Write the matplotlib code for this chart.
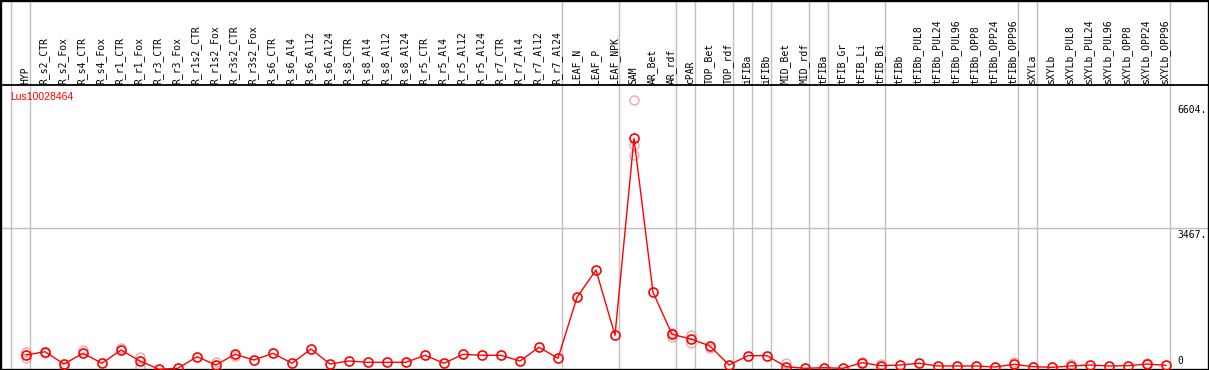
import matplotlib
matplotlib.use("Agg")
import matplotlib.pyplot as plt

# sample names (x axis, shown on top)
samples = ["HYP", "R_s2_CTR", "R_s2_Fox", "R_s4_CTR", "R_s4_Fox", "R_r1_CTR", "R_r1_Fox",
           "R_r3_CTR", "R_r3_Fox", "R_r1s2_CTR", "R_r1s2_Fox", "R_r3s2_CTR", "R_r3s2_Fox",
           "R_s6_CTR", "R_s6_Al4", "R_s6_Al12", "R_s6_Al24", "R_s8_CTR", "R_s8_Al4",
           "R_s8_Al12", "R_s8_Al24", "R_r5_CTR", "R_r5_Al4", "R_r5_Al12", "R_r5_Al24",
           "R_r7_CTR", "R_r7_Al4", "R_r7_Al12", "R_r7_Al24", "LEAF_N", "LEAF_P", "LEAF_NPK",
           "SAM", "AR_Bet", "AR_rdf", "cPAR", "TOP_Bet", "TOP_rdf", "iFIBa", "iFIBb",
           "MID_Bet", "MID_rdf", "tFIBa", "tFIB_Gr", "tFIB_Li", "tFIB_Bi", "tFIBb",
           "tFIBb_PUL8", "tFIBb_PUL24", "tFIBb_PUL96", "tFIBb_OPP8", "tFIBb_OPP24",
           "tFIBb_OPP96", "sXYLa", "sXYLb", "sXYLb_PUL8", "sXYLb_PUL24", "sXYLb_PUL96",
           "sXYLb_OPP8", "sXYLb_OPP24", "sXYLb_OPP96"]

# mean expression per sample
mean_expr = [378, 458, 158, 419, 176, 500, 232, 30, 54, 336, 134, 395, 256, 419, 176,
             524, 158, 232, 200, 200, 200, 371, 176, 395, 371, 371, 232, 566, 297,
             1785, 2450, 858, 5661, 1907, 883, 768, 597, 134, 361, 361,
             93, 54, 68, 54, 190, 117, 134, 176, 110, 110, 110, 85, 151,
             93, 78, 110, 134, 110, 117, 158, 127]

# single replicates (faint circles)
rep_idx = [0, 0, 1, 2, 3, 5, 6, 6, 10, 11, 32, 32, 32, 34, 34, 35, 35, 36, 40, 44, 45, 52, 55, 59]
rep_expr = [458, 297, 427, 93, 500, 541, 322, 93, 215, 354, 6604, 5498, 5254, 907, 817,
            866, 670, 549, 190, 215, 151, 200, 158, 190]

# last sample of each group -> grey separator right after it
group_ends = [-1, 0, 28, 31, 34, 35, 37, 38, 39, 41, 42, 45, 52, 53, 60]

gene = "Lus10028464"
y_ticks = [6604, 3467, 0]

W, H = 1209, 370
fig = plt.figure(figsize=(W / 100, H / 100), dpi=100)
ax = fig.add_axes([0, 0, 1, 1])

# pixel mapping: sample i at x=26+19i, value 0 at y=370.5, 24.38 units per pixel
ax.set_xlim(-26 / 19, (W - 26) / 19)
ax.set_ylim((370.5 - H) * 24.38, 370.5 * 24.38)

for g in group_ends:
    ax.axvline(g + 0.2, color="#c0c0c0", lw=1.0, zorder=1)
ax.axhline(y_ticks[1], color="#c0c0c0", lw=1.0, zorder=1)

# separator between label band and plot
ax.axhline((370.5 - 85) * 24.38, color="black", lw=1.3, zorder=3)

ax.plot(rep_idx, rep_expr, linestyle="none", marker="o", markersize=6.5,
        markerfacecolor="none", markeredgecolor="#f09090", markeredgewidth=1.0,
        alpha=0.8, zorder=2)
ax.plot(range(len(samples)), mean_expr, color="red", lw=1.0, marker="o",
        markersize=6.5, markerfacecolor="none", markeredgecolor="red",
        markeredgewidth=1.2, zorder=4)

# sample labels, rotated in the top band
for i, s in enumerate(samples):
    ax.text(i - 0.05, 1 - 83.5 / H, s, rotation=90, ha="center", va="bottom",
            transform=ax.get_xaxis_transform(), fontsize=7, family="DejaVu Sans Mono")

ax.text(10 / W, 1 - 97.5 / H, gene, color="red", ha="left", va="center",
        transform=ax.transAxes, fontsize=7.5, family="Liberation Sans")

# value labels at right
ax.annotate("6604.", xy=(1177 / W, y_ticks[0]), xycoords=("axes fraction", "data"),
            xytext=(0, -5), textcoords="offset pixels", ha="left", va="top",
            fontsize=7, family="DejaVu Sans Mono")
ax.annotate("3467.", xy=(1177 / W, y_ticks[1]), xycoords=("axes fraction", "data"),
            xytext=(0, -2), textcoords="offset pixels", ha="left", va="top",
            fontsize=7, family="DejaVu Sans Mono")
ax.text(1177 / W, 1 - 361.5 / H, "0", ha="left", va="center",
        transform=ax.transAxes, fontsize=7, family="DejaVu Sans Mono")

ax.set_xticks([])
ax.set_yticks([])
for sp in ax.spines.values():
    sp.set_color("black")
    sp.set_linewidth(2.4)

fig.savefig("out.png", dpi=100)
